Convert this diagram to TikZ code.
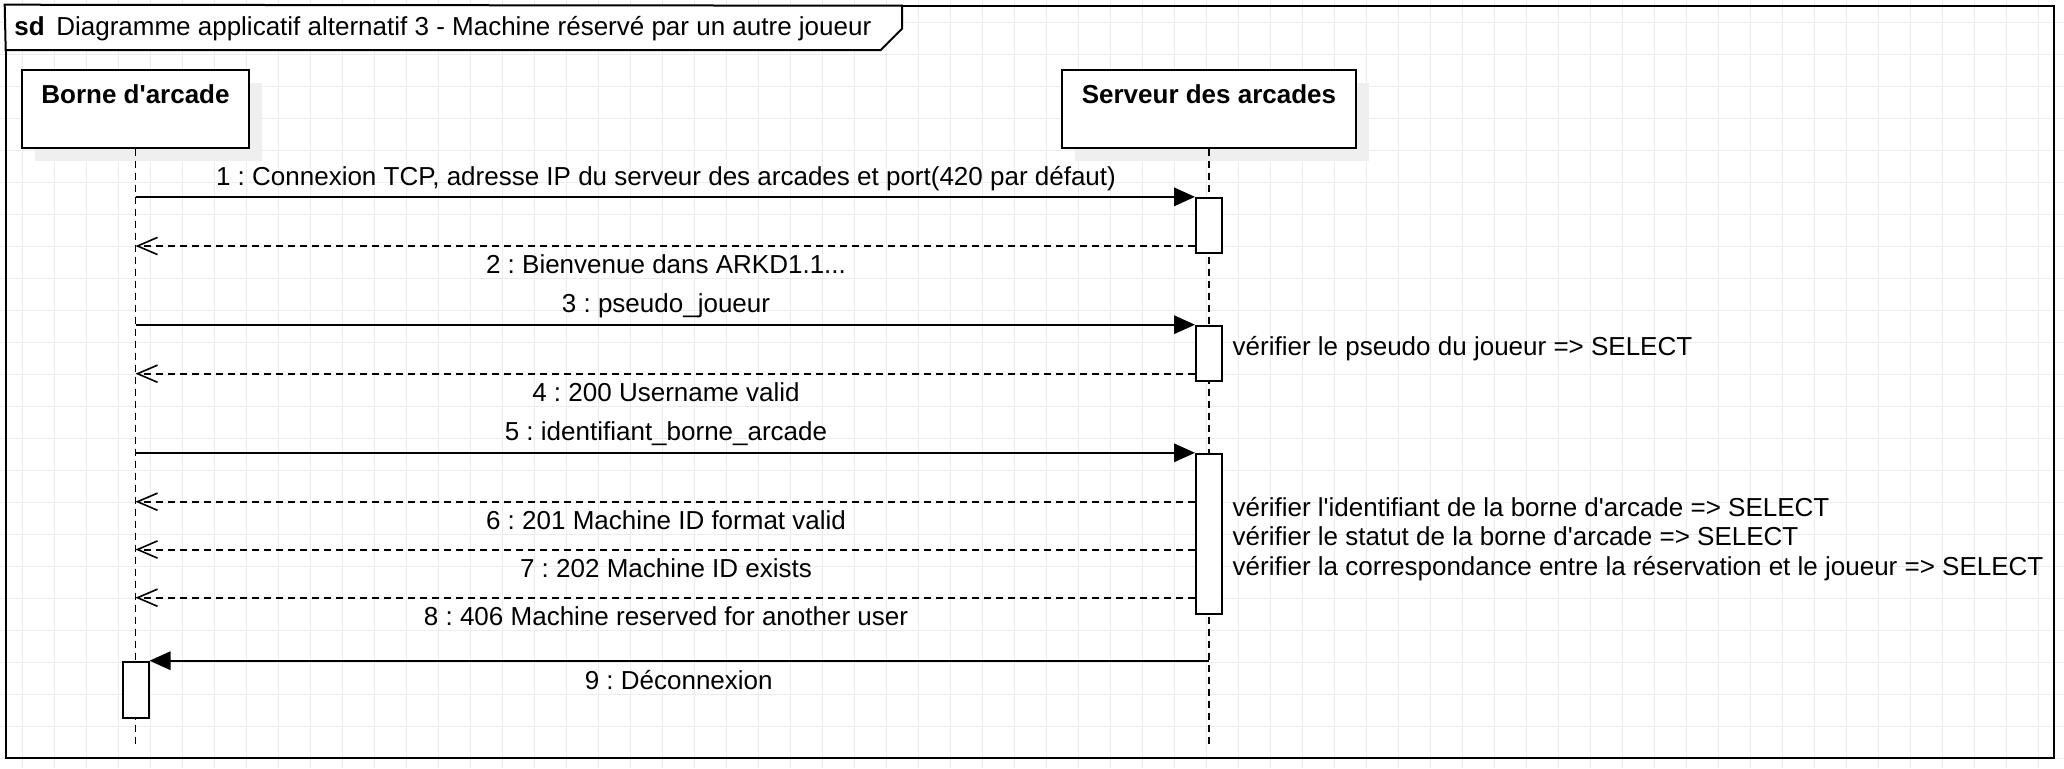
\documentclass[tikz,border=0pt]{standalone}
\usepackage{fontspec}
\setmainfont{Liberation Sans}[Ligatures=TeXOff]
\frenchspacing
\usetikzlibrary{arrows.meta,shadows}
\definecolor{gridc}{RGB}{236,236,236}
\definecolor{shadowc}{RGB}{239,239,239}
\begin{document}
\begin{tikzpicture}[x=0.5pt,y=-0.5pt,
  txt/.style={font=\fontsize{13}{15}\selectfont, inner sep=0pt, anchor=base},
  btxt/.style={font=\fontsize{13}{15}\selectfont\bfseries, inner sep=0pt, anchor=base},
  notetxt/.style={font=\fontsize{13}{15}\selectfont, inner sep=0pt, anchor=base west},
  headbox/.style={draw, fill=white, line width=1pt, inner sep=0pt,
    drop shadow={shadow xshift=6.5pt, shadow yshift=-6.5pt, fill=shadowc, opacity=1}},
  actbox/.style={draw, fill=white, line width=1pt, inner sep=0pt, minimum width=13pt},
  life/.style={line width=0.85pt, dash pattern=on 3.5pt off 2.5pt},
  call/.style={line width=1pt, -{Triangle[length=10.5pt,width=9.2pt]}},
  reply/.style={line width=1pt, dash pattern=on 3.5pt off 2.5pt,
    -{Straight Barb[length=10pt,width=8.6pt,line width=0.8pt]}},
  gridline/.style={draw=gridc, line width=0.5pt}]
\useasboundingbox (0,0) rectangle (2064,768);
% background grid
\foreach \i in {0,...,63} \draw[gridline] (22.5+32*\i,0) -- (22.5+32*\i,768);
\foreach \j in {0,...,23} \draw[gridline] (0,22.5+32*\j) -- (2064,22.5+32*\j);
% frame
\node[draw, line width=1pt, inner sep=0pt, minimum width=1024.15pt, minimum height=375.9pt] (frame) at (1029.85,381.6) {};
\filldraw[fill=white, line width=1pt] (frame.north west) -- (902,5.7) -- (902,28.7) -- (880.7,50) -- (5.7,50) -- cycle;
\node[txt, anchor=base west] (title) at (14,35) {\textbf{sd}\, Diagramme applicatif alternatif 3 - Machine réservé par un autre joueur};
% lifeline heads
\node[headbox, minimum width=113.5pt, minimum height=38.75pt] (borne) at (135.5,108.8) {};
\node[headbox, minimum width=146.65pt, minimum height=38.85pt] (server) at (1209,108.85) {};
\node[btxt] (bornelbl) at (135.5,103.3) {Borne d'arcade};
\node[btxt] (serverlbl) at (1209,103.3) {Serveur des arcades};
% lifelines
\coordinate (bend) at (135.5,744);
\coordinate (send) at (1209,744);
\draw[life] (borne.south) -- (bend);
\draw[life] (server.south) -- (send);
% activations
\node[actbox, minimum height=27.75pt] (act1) at (1209,225.6) {};
\node[actbox, minimum height=27.8pt] (act2) at (1209,353.5) {};
\node[actbox, minimum height=80pt] (act3) at (1209,533.8) {};
\node[actbox, minimum height=28pt] (act4) at (135.5,689.7) {};
% message heights
\coordinate (y2) at (0,246);
\coordinate (y4) at (0,373.7);
\coordinate (y6) at (0,501.7);
\coordinate (y7) at (0,549.5);
\coordinate (y8) at (0,597.7);
% messages
\draw[call] (borne.south |- act1.north) -- (act1.north west);
\draw[reply] (act1.west |- y2) -- (borne.south |- y2);
\draw[call] (borne.south |- act2.north) -- (act2.north west);
\draw[reply] (act2.west |- y4) -- (borne.south |- y4);
\draw[call] (borne.south |- act3.north) -- (act3.north west);
\draw[reply] (act3.west |- y6) -- (borne.south |- y6);
\draw[reply] (act3.west |- y7) -- (borne.south |- y7);
\draw[reply] (act3.west |- y8) -- (borne.south |- y8);
\draw[call] (server.south |- act4.north) -- (act4.north east);
% message labels
\node[txt] (l1) at (666,185) {1 : Connexion TCP, adresse IP du serveur des arcades et port(420 par défaut)};
\node[txt] (l2) at (666,273.6) {2 : Bienvenue dans ARKD1.1...};
\node[txt] (l3) at (666,312.4) {3 : pseudo\_joueur};
\node[txt] (l4) at (666,401.3) {4 : 200 Username valid};
\node[txt] (l5) at (666,440.4) {5 : identifiant\_borne\_arcade};
\node[txt] (l6) at (666,529.3) {6 : 201 Machine ID format valid};
\node[txt] (l7) at (666,577) {7 : 202 Machine ID exists};
\node[txt] (l8) at (666,625.3) {8 : 406 Machine reserved for another user};
\node[txt] (l9) at (678.7,689.3) {9 : Déconnexion};
% notes
\node[notetxt] (n1) at (1232.3,355.5) {vérifier le pseudo du joueur => SELECT};
\node[notetxt] (n2) at (1232.3,516) {vérifier l'identifiant de la borne d'arcade => SELECT};
\node[notetxt] (n3) at (1232.3,545.5) {vérifier le statut de la borne d'arcade => SELECT};
\node[notetxt] (n4) at (1232.3,575) {vérifier la correspondance entre la réservation et le joueur => SELECT};
\end{tikzpicture}
\end{document}
